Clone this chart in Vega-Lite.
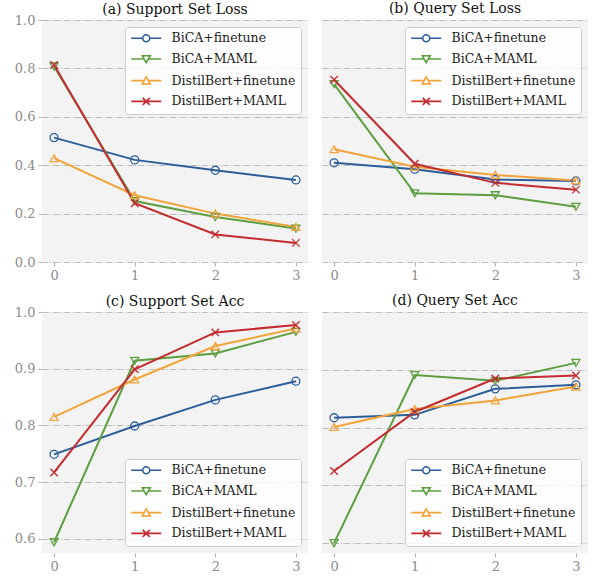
{
  "$schema": "https://vega.github.io/schema/vega-lite/v6.json",
  "padding": {"left": 14, "top": 2, "right": 0, "bottom": 0},
  "datasets": {
    "d": [
      {"p":"a","s":"BiCA+finetune","e":0,"v":0.514},{"p":"a","s":"BiCA+finetune","e":1,"v":0.422},{"p":"a","s":"BiCA+finetune","e":2,"v":0.379},{"p":"a","s":"BiCA+finetune","e":3,"v":0.339},
      {"p":"a","s":"BiCA+MAML","e":0,"v":0.808},{"p":"a","s":"BiCA+MAML","e":1,"v":0.252},{"p":"a","s":"BiCA+MAML","e":2,"v":0.186},{"p":"a","s":"BiCA+MAML","e":3,"v":0.138},
      {"p":"a","s":"DistilBert+finetune","e":0,"v":0.429},{"p":"a","s":"DistilBert+finetune","e":1,"v":0.276},{"p":"a","s":"DistilBert+finetune","e":2,"v":0.200},{"p":"a","s":"DistilBert+finetune","e":3,"v":0.145},
      {"p":"a","s":"DistilBert+MAML","e":0,"v":0.814},{"p":"a","s":"DistilBert+MAML","e":1,"v":0.243},{"p":"a","s":"DistilBert+MAML","e":2,"v":0.114},{"p":"a","s":"DistilBert+MAML","e":3,"v":0.079},
      {"p":"b","s":"BiCA+finetune","e":0,"v":0.410},{"p":"b","s":"BiCA+finetune","e":1,"v":0.383},{"p":"b","s":"BiCA+finetune","e":2,"v":0.341},{"p":"b","s":"BiCA+finetune","e":3,"v":0.335},
      {"p":"b","s":"BiCA+MAML","e":0,"v":0.735},{"p":"b","s":"BiCA+MAML","e":1,"v":0.284},{"p":"b","s":"BiCA+MAML","e":2,"v":0.276},{"p":"b","s":"BiCA+MAML","e":3,"v":0.228},
      {"p":"b","s":"DistilBert+finetune","e":0,"v":0.466},{"p":"b","s":"DistilBert+finetune","e":1,"v":0.394},{"p":"b","s":"DistilBert+finetune","e":2,"v":0.360},{"p":"b","s":"DistilBert+finetune","e":3,"v":0.337},
      {"p":"b","s":"DistilBert+MAML","e":0,"v":0.753},{"p":"b","s":"DistilBert+MAML","e":1,"v":0.406},{"p":"b","s":"DistilBert+MAML","e":2,"v":0.327},{"p":"b","s":"DistilBert+MAML","e":3,"v":0.299},
      {"p":"c","s":"BiCA+finetune","e":0,"v":0.749},{"p":"c","s":"BiCA+finetune","e":1,"v":0.799},{"p":"c","s":"BiCA+finetune","e":2,"v":0.845},{"p":"c","s":"BiCA+finetune","e":3,"v":0.878},
      {"p":"c","s":"BiCA+MAML","e":0,"v":0.594},{"p":"c","s":"BiCA+MAML","e":1,"v":0.914},{"p":"c","s":"BiCA+MAML","e":2,"v":0.927},{"p":"c","s":"BiCA+MAML","e":3,"v":0.965},
      {"p":"c","s":"DistilBert+finetune","e":0,"v":0.815},{"p":"c","s":"DistilBert+finetune","e":1,"v":0.881},{"p":"c","s":"DistilBert+finetune","e":2,"v":0.940},{"p":"c","s":"DistilBert+finetune","e":3,"v":0.971},
      {"p":"c","s":"DistilBert+MAML","e":0,"v":0.717},{"p":"c","s":"DistilBert+MAML","e":1,"v":0.899},{"p":"c","s":"DistilBert+MAML","e":2,"v":0.964},{"p":"c","s":"DistilBert+MAML","e":3,"v":0.977},
      {"p":"d","s":"BiCA+finetune","e":0,"v":0.817},{"p":"d","s":"BiCA+finetune","e":1,"v":0.822},{"p":"d","s":"BiCA+finetune","e":2,"v":0.867},{"p":"d","s":"BiCA+finetune","e":3,"v":0.874},
      {"p":"d","s":"BiCA+MAML","e":0,"v":0.600},{"p":"d","s":"BiCA+MAML","e":1,"v":0.891},{"p":"d","s":"BiCA+MAML","e":2,"v":0.881},{"p":"d","s":"BiCA+MAML","e":3,"v":0.912},
      {"p":"d","s":"DistilBert+finetune","e":0,"v":0.801},{"p":"d","s":"DistilBert+finetune","e":1,"v":0.832},{"p":"d","s":"DistilBert+finetune","e":2,"v":0.847},{"p":"d","s":"DistilBert+finetune","e":3,"v":0.871},
      {"p":"d","s":"DistilBert+MAML","e":0,"v":0.725},{"p":"d","s":"DistilBert+MAML","e":1,"v":0.827},{"p":"d","s":"DistilBert+MAML","e":2,"v":0.885},{"p":"d","s":"DistilBert+MAML","e":3,"v":0.890}
    ]
  },
  "columns": 2,
  "spacing": {"row": 12, "column": 14},
  "resolve": {"scale": {"color": "independent", "shape": "independent", "y": "independent"}, "legend": {"color": "independent", "shape": "independent"}},
  "concat": [
    {
      "data": {"name": "d"},
      "transform": [{"filter": "datum.p=='a'"}],
      "title": {"text": "(a) Support Set Loss", "offset": -2.5, "frame": "group"},
      "width": 266, "height": 242,
      "encoding": {
        "x": {"field": "e", "type": "quantitative", "scale": {"domain": [-0.15, 3.15], "nice": false, "zero": false}, "axis": {"values": [0,1,2,3], "format": "d", "grid": false, "title": null}},
        "y": {"field": "v", "type": "quantitative", "scale": {"domain": [0, 1], "nice": false, "zero": false}, "axis": {"values": [0,0.2,0.4,0.6,0.8,1.0], "format": ".1f", "title": null}}
      },
      "layer": [
        {"transform": [{"filter": "datum.s=='BiCA+finetune'"}], "mark": {"type": "line", "strokeWidth": 2, "color": "#2c5d9b"}, "encoding": {}},
        {"transform": [{"filter": "datum.s=='BiCA+MAML'"}], "mark": {"type": "line", "strokeWidth": 2, "color": "#5c9e40"}, "encoding": {}},
        {"transform": [{"filter": "datum.s=='DistilBert+finetune'"}], "mark": {"type": "line", "strokeWidth": 2, "color": "#f2a33a"}, "encoding": {}},
        {"transform": [{"filter": "datum.s=='DistilBert+MAML'"}], "mark": {"type": "line", "strokeWidth": 2, "color": "#c42b2e"}, "encoding": {}},
        {"transform": [{"filter": "datum.s=='BiCA+finetune'"}], "mark": {"type": "point", "shape": "circle", "filled": false, "size": 64, "strokeWidth": 1.3, "opacity": 1, "color": "#2c5d9b"}, "encoding": {}},
        {"transform": [{"filter": "datum.s=='BiCA+MAML'"}], "mark": {"type": "point", "shape": "triangle-down", "filled": false, "size": 64, "strokeWidth": 1.3, "opacity": 1, "color": "#5c9e40"}, "encoding": {}},
        {"transform": [{"filter": "datum.s=='DistilBert+finetune'"}], "mark": {"type": "point", "shape": "triangle-up", "filled": false, "size": 64, "strokeWidth": 1.3, "opacity": 1, "color": "#f2a33a"}, "encoding": {}},
        {"transform": [{"filter": "datum.s=='DistilBert+MAML'"}], "mark": {"type": "point", "shape": "M-1,-1L1,1M-1,1L1,-1", "filled": false, "size": 56, "strokeWidth": 1.3, "opacity": 1, "color": "#c42b2e"}, "encoding": {}},
        {"mark": {"type": "point", "filled": false, "opacity": 0},
         "encoding": {
           "color": {"field": "s", "type": "nominal", "scale": {"domain": ["BiCA+finetune","BiCA+MAML","DistilBert+finetune","DistilBert+MAML"], "range": ["#2c5d9b","#5c9e40","#f2a33a","#c42b2e"]}, "legend": {"orient": "top-right"}},
           "shape": {"field": "s", "type": "nominal", "scale": {"domain": ["BiCA+finetune","BiCA+MAML","DistilBert+finetune","DistilBert+MAML"], "range": ["M-3,0H-0.7M0.7,0H3M-0.7,0A0.7,0.7,0,1,0,0.7,0A0.7,0.7,0,1,0,-0.7,0Z","M-3,0H-0.43M0.43,0H3M-0.8,-0.65L0.8,-0.65L0,0.75Z","M-3,0H-0.43M0.43,0H3M-0.8,0.65L0.8,0.65L0,-0.75Z","M-3,0H3M-0.7,-0.7L0.7,0.7M-0.7,0.7L0.7,-0.7"]}, "legend": {"orient": "top-right"}}
         }}
      ]
    },
    {
      "data": {"name": "d"},
      "transform": [{"filter": "datum.p=='b'"}],
      "title": {"text": "(b) Query Set Loss", "offset": 4, "frame": "group"},
      "width": 266, "height": 242,
      "encoding": {
        "x": {"field": "e", "type": "quantitative", "scale": {"domain": [-0.15, 3.15], "nice": false, "zero": false}, "axis": {"values": [0,1,2,3], "format": "d", "grid": false, "title": null}},
        "y": {"field": "v", "type": "quantitative", "scale": {"domain": [0, 1], "nice": false, "zero": false}, "axis": {"values": [0,0.2,0.4,0.6,0.8,1.0], "labels": false, "ticks": false, "title": null, "minExtent": 0}}
      },
      "layer": [
        {"transform": [{"filter": "datum.s=='BiCA+finetune'"}], "mark": {"type": "line", "strokeWidth": 2, "color": "#2c5d9b"}, "encoding": {}},
        {"transform": [{"filter": "datum.s=='BiCA+MAML'"}], "mark": {"type": "line", "strokeWidth": 2, "color": "#5c9e40"}, "encoding": {}},
        {"transform": [{"filter": "datum.s=='DistilBert+finetune'"}], "mark": {"type": "line", "strokeWidth": 2, "color": "#f2a33a"}, "encoding": {}},
        {"transform": [{"filter": "datum.s=='DistilBert+MAML'"}], "mark": {"type": "line", "strokeWidth": 2, "color": "#c42b2e"}, "encoding": {}},
        {"transform": [{"filter": "datum.s=='BiCA+finetune'"}], "mark": {"type": "point", "shape": "circle", "filled": false, "size": 64, "strokeWidth": 1.3, "opacity": 1, "color": "#2c5d9b"}, "encoding": {}},
        {"transform": [{"filter": "datum.s=='BiCA+MAML'"}], "mark": {"type": "point", "shape": "triangle-down", "filled": false, "size": 64, "strokeWidth": 1.3, "opacity": 1, "color": "#5c9e40"}, "encoding": {}},
        {"transform": [{"filter": "datum.s=='DistilBert+finetune'"}], "mark": {"type": "point", "shape": "triangle-up", "filled": false, "size": 64, "strokeWidth": 1.3, "opacity": 1, "color": "#f2a33a"}, "encoding": {}},
        {"transform": [{"filter": "datum.s=='DistilBert+MAML'"}], "mark": {"type": "point", "shape": "M-1,-1L1,1M-1,1L1,-1", "filled": false, "size": 56, "strokeWidth": 1.3, "opacity": 1, "color": "#c42b2e"}, "encoding": {}},
        {"mark": {"type": "point", "filled": false, "opacity": 0},
         "encoding": {
           "color": {"field": "s", "type": "nominal", "scale": {"domain": ["BiCA+finetune","BiCA+MAML","DistilBert+finetune","DistilBert+MAML"], "range": ["#2c5d9b","#5c9e40","#f2a33a","#c42b2e"]}, "legend": {"orient": "top-right"}},
           "shape": {"field": "s", "type": "nominal", "scale": {"domain": ["BiCA+finetune","BiCA+MAML","DistilBert+finetune","DistilBert+MAML"], "range": ["M-3,0H-0.7M0.7,0H3M-0.7,0A0.7,0.7,0,1,0,0.7,0A0.7,0.7,0,1,0,-0.7,0Z","M-3,0H-0.43M0.43,0H3M-0.8,-0.65L0.8,-0.65L0,0.75Z","M-3,0H-0.43M0.43,0H3M-0.8,0.65L0.8,0.65L0,-0.75Z","M-3,0H3M-0.7,-0.7L0.7,0.7M-0.7,0.7L0.7,-0.7"]}, "legend": {"orient": "top-right"}}
         }}
      ]
    },
    {
      "data": {"name": "d"},
      "transform": [{"filter": "datum.p=='c'"}],
      "title": {"text": "(c) Support Set Acc", "offset": -2.5, "frame": "group"},
      "width": 266, "height": 241,
      "encoding": {
        "x": {"field": "e", "type": "quantitative", "scale": {"domain": [-0.15, 3.15], "nice": false, "zero": false}, "axis": {"values": [0,1,2,3], "format": "d", "grid": false, "title": null}},
        "y": {"field": "v", "type": "quantitative", "scale": {"domain": [0.575, 1], "nice": false, "zero": false}, "axis": {"values": [0.6,0.7,0.8,0.9,1.0], "format": ".1f", "title": null}}
      },
      "layer": [
        {"transform": [{"filter": "datum.s=='BiCA+finetune'"}], "mark": {"type": "line", "strokeWidth": 2, "color": "#2c5d9b"}, "encoding": {}},
        {"transform": [{"filter": "datum.s=='BiCA+MAML'"}], "mark": {"type": "line", "strokeWidth": 2, "color": "#5c9e40"}, "encoding": {}},
        {"transform": [{"filter": "datum.s=='DistilBert+finetune'"}], "mark": {"type": "line", "strokeWidth": 2, "color": "#f2a33a"}, "encoding": {}},
        {"transform": [{"filter": "datum.s=='DistilBert+MAML'"}], "mark": {"type": "line", "strokeWidth": 2, "color": "#c42b2e"}, "encoding": {}},
        {"transform": [{"filter": "datum.s=='BiCA+finetune'"}], "mark": {"type": "point", "shape": "circle", "filled": false, "size": 64, "strokeWidth": 1.3, "opacity": 1, "color": "#2c5d9b"}, "encoding": {}},
        {"transform": [{"filter": "datum.s=='BiCA+MAML'"}], "mark": {"type": "point", "shape": "triangle-down", "filled": false, "size": 64, "strokeWidth": 1.3, "opacity": 1, "color": "#5c9e40"}, "encoding": {}},
        {"transform": [{"filter": "datum.s=='DistilBert+finetune'"}], "mark": {"type": "point", "shape": "triangle-up", "filled": false, "size": 64, "strokeWidth": 1.3, "opacity": 1, "color": "#f2a33a"}, "encoding": {}},
        {"transform": [{"filter": "datum.s=='DistilBert+MAML'"}], "mark": {"type": "point", "shape": "M-1,-1L1,1M-1,1L1,-1", "filled": false, "size": 56, "strokeWidth": 1.3, "opacity": 1, "color": "#c42b2e"}, "encoding": {}},
        {"mark": {"type": "point", "filled": false, "opacity": 0},
         "encoding": {
           "color": {"field": "s", "type": "nominal", "scale": {"domain": ["BiCA+finetune","BiCA+MAML","DistilBert+finetune","DistilBert+MAML"], "range": ["#2c5d9b","#5c9e40","#f2a33a","#c42b2e"]}, "legend": {"orient": "bottom-right"}},
           "shape": {"field": "s", "type": "nominal", "scale": {"domain": ["BiCA+finetune","BiCA+MAML","DistilBert+finetune","DistilBert+MAML"], "range": ["M-3,0H-0.7M0.7,0H3M-0.7,0A0.7,0.7,0,1,0,0.7,0A0.7,0.7,0,1,0,-0.7,0Z","M-3,0H-0.43M0.43,0H3M-0.8,-0.65L0.8,-0.65L0,0.75Z","M-3,0H-0.43M0.43,0H3M-0.8,0.65L0.8,0.65L0,-0.75Z","M-3,0H3M-0.7,-0.7L0.7,0.7M-0.7,0.7L0.7,-0.7"]}, "legend": {"orient": "bottom-right"}}
         }}
      ]
    },
    {
      "data": {"name": "d"},
      "transform": [{"filter": "datum.p=='d'"}],
      "title": {"text": "(d) Query Set Acc", "offset": 4, "frame": "group"},
      "width": 266, "height": 241,
      "encoding": {
        "x": {"field": "e", "type": "quantitative", "scale": {"domain": [-0.15, 3.15], "nice": false, "zero": false}, "axis": {"values": [0,1,2,3], "format": "d", "grid": false, "title": null}},
        "y": {"field": "v", "type": "quantitative", "scale": {"domain": [0.583, 1], "nice": false, "zero": false}, "axis": {"values": [0.6,0.7,0.8,0.9,1.0], "labels": false, "ticks": false, "title": null, "minExtent": 0}}
      },
      "layer": [
        {"transform": [{"filter": "datum.s=='BiCA+finetune'"}], "mark": {"type": "line", "strokeWidth": 2, "color": "#2c5d9b"}, "encoding": {}},
        {"transform": [{"filter": "datum.s=='BiCA+MAML'"}], "mark": {"type": "line", "strokeWidth": 2, "color": "#5c9e40"}, "encoding": {}},
        {"transform": [{"filter": "datum.s=='DistilBert+finetune'"}], "mark": {"type": "line", "strokeWidth": 2, "color": "#f2a33a"}, "encoding": {}},
        {"transform": [{"filter": "datum.s=='DistilBert+MAML'"}], "mark": {"type": "line", "strokeWidth": 2, "color": "#c42b2e"}, "encoding": {}},
        {"transform": [{"filter": "datum.s=='BiCA+finetune'"}], "mark": {"type": "point", "shape": "circle", "filled": false, "size": 64, "strokeWidth": 1.3, "opacity": 1, "color": "#2c5d9b"}, "encoding": {}},
        {"transform": [{"filter": "datum.s=='BiCA+MAML'"}], "mark": {"type": "point", "shape": "triangle-down", "filled": false, "size": 64, "strokeWidth": 1.3, "opacity": 1, "color": "#5c9e40"}, "encoding": {}},
        {"transform": [{"filter": "datum.s=='DistilBert+finetune'"}], "mark": {"type": "point", "shape": "triangle-up", "filled": false, "size": 64, "strokeWidth": 1.3, "opacity": 1, "color": "#f2a33a"}, "encoding": {}},
        {"transform": [{"filter": "datum.s=='DistilBert+MAML'"}], "mark": {"type": "point", "shape": "M-1,-1L1,1M-1,1L1,-1", "filled": false, "size": 56, "strokeWidth": 1.3, "opacity": 1, "color": "#c42b2e"}, "encoding": {}},
        {"mark": {"type": "point", "filled": false, "opacity": 0},
         "encoding": {
           "color": {"field": "s", "type": "nominal", "scale": {"domain": ["BiCA+finetune","BiCA+MAML","DistilBert+finetune","DistilBert+MAML"], "range": ["#2c5d9b","#5c9e40","#f2a33a","#c42b2e"]}, "legend": {"orient": "bottom-right"}},
           "shape": {"field": "s", "type": "nominal", "scale": {"domain": ["BiCA+finetune","BiCA+MAML","DistilBert+finetune","DistilBert+MAML"], "range": ["M-3,0H-0.7M0.7,0H3M-0.7,0A0.7,0.7,0,1,0,0.7,0A0.7,0.7,0,1,0,-0.7,0Z","M-3,0H-0.43M0.43,0H3M-0.8,-0.65L0.8,-0.65L0,0.75Z","M-3,0H-0.43M0.43,0H3M-0.8,0.65L0.8,0.65L0,-0.75Z","M-3,0H3M-0.7,-0.7L0.7,0.7M-0.7,0.7L0.7,-0.7"]}, "legend": {"orient": "bottom-right"}}
         }}
      ]
    }
  ],
  "config": {
    "font": "DejaVu Serif",
    "view": {"fill": "#f3f3f3", "stroke": null},
    "title": {"font": "DejaVu Serif", "fontSize": 14, "fontWeight": "normal", "color": "#111111"},
    "axis": {"labelFont": "DejaVu Serif", "labelFontSize": 13, "labelColor": "#8c8c8c", "tickColor": "#b0b0b0", "tickSize": 4, "domain": false, "gridColor": "#bdbdbd", "gridDash": [6.4, 1.6, 1, 1.6], "gridWidth": 1, "labelPadding": 3},
    "legend": {"title": null, "offset": 7, "labelFont": "DejaVu Serif", "labelFontSize": 12.5, "labelColor": "#222222", "fillColor": "rgba(255,255,255,0.8)", "strokeColor": "#cccccc", "cornerRadius": 3, "padding": 5, "rowPadding": 6.7, "symbolSize": 100, "symbolStrokeWidth": 1.6, "symbolOpacity": 1, "symbolOffset": 10, "labelOffset": 19}
  }
}
